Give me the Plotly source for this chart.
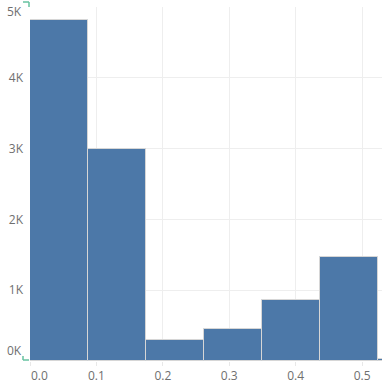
import plotly.graph_objects as go

bin_edges = [0.0, 0.0873, 0.1746, 0.2619, 0.3492, 0.4365, 0.5238, 0.6111]
counts = [4820, 3000, 290, 445, 855, 1475, 35]
y_tickvals = [0, 1000, 2000, 3000, 4000, 5000]
y_ticktext = ["0K", "1K", "2K", "3K", "4K", "5K"]
x_tickvals = [0.0, 0.1, 0.2, 0.3, 0.4, 0.5]
x_ticktext = ["0.0", "0.1", "0.2", "0.3", "0.4", "0.5"]

starts = bin_edges[:-1]
widths = [b - a for a, b in zip(bin_edges[:-1], bin_edges[1:])]

fig = go.Figure(go.Bar(
    x=starts, y=counts, width=widths, offset=0,
    marker=dict(color="#4c78a8", line=dict(color="#d6d6d6", width=1)),
    hoverinfo="skip",
))

FONT = "Open Sans, DejaVu Sans, sans-serif"
tick_font = dict(family=FONT, size=12, color="#6f6f6f")
grid = "#eeeeee"

# flush labels at the axis ends (drawn as annotations, like Vega's labelFlush)
y_shown = [""] + y_ticktext[1:-1] + [""]
x_shown = [""] + x_ticktext[1:]

annotations = [
    dict(text=y_ticktext[0], x=0, xref="paper", xanchor="right", xshift=-6,
         y=y_tickvals[0], yref="y", yanchor="bottom", yshift=0,
         showarrow=False, font=tick_font),
    dict(text=y_ticktext[-1], x=0, xref="paper", xanchor="right", xshift=-6,
         y=y_tickvals[-1], yref="y", yanchor="top", yshift=6,
         showarrow=False, font=tick_font),
    dict(text=x_ticktext[0], x=x_tickvals[0], xref="x", xanchor="left", xshift=-1,
         y=0, yref="paper", yanchor="top", yshift=-4,
         showarrow=False, font=tick_font),
]

mark = dict(color="#66c2a0", width=1.5)
shapes = [
    dict(type="line", xref="paper", yref="paper", xsizemode="pixel", ysizemode="pixel",
         xanchor=0, yanchor=1, x0=-7, x1=-1, y0=5, y1=5, line=mark),
    dict(type="line", xref="paper", yref="paper", xsizemode="pixel", ysizemode="pixel",
         xanchor=0, yanchor=1, x0=-1, x1=-1, y0=5, y1=0, line=mark),
    dict(type="line", xref="paper", yref="paper", xsizemode="pixel", ysizemode="pixel",
         xanchor=0, yanchor=0, x0=-7, x1=-7, y0=5, y1=1, line=mark),
    dict(type="line", xref="paper", yref="paper", xsizemode="pixel", ysizemode="pixel",
         xanchor=0, yanchor=0, x0=-7, x1=-1, y0=1, y1=1, line=mark),
]

fig.update_layout(
    width=382, height=386,
    margin=dict(l=30, r=0, t=7, b=25),
    paper_bgcolor="white", plot_bgcolor="white",
    showlegend=False,
    bargap=0,
    xaxis=dict(range=[0, 0.530], tickvals=x_tickvals, ticktext=x_shown,
               showgrid=True, gridcolor=grid, gridwidth=1, zeroline=False,
               ticks="outside", ticklen=4, tickcolor="#e8e8e8",
               tickfont=tick_font, showline=False, fixedrange=True),
    yaxis=dict(range=[0, 5000], tickvals=y_tickvals, ticktext=y_shown,
               showgrid=True, gridcolor=grid, gridwidth=1, zeroline=False,
               ticks="", ticklabelstandoff=6,
               tickfont=tick_font, showline=False, fixedrange=True),
    annotations=annotations,
    shapes=shapes,
)

fig.write_html("out.html", config={"displayModeBar": False})

with open("out.html", "r", encoding="utf-8") as f:
    html = f.read()
html = html.replace("<body>", '<body style="margin:0;padding:0;overflow:hidden;">', 1)
with open("out.html", "w", encoding="utf-8") as f:
    f.write(html)
